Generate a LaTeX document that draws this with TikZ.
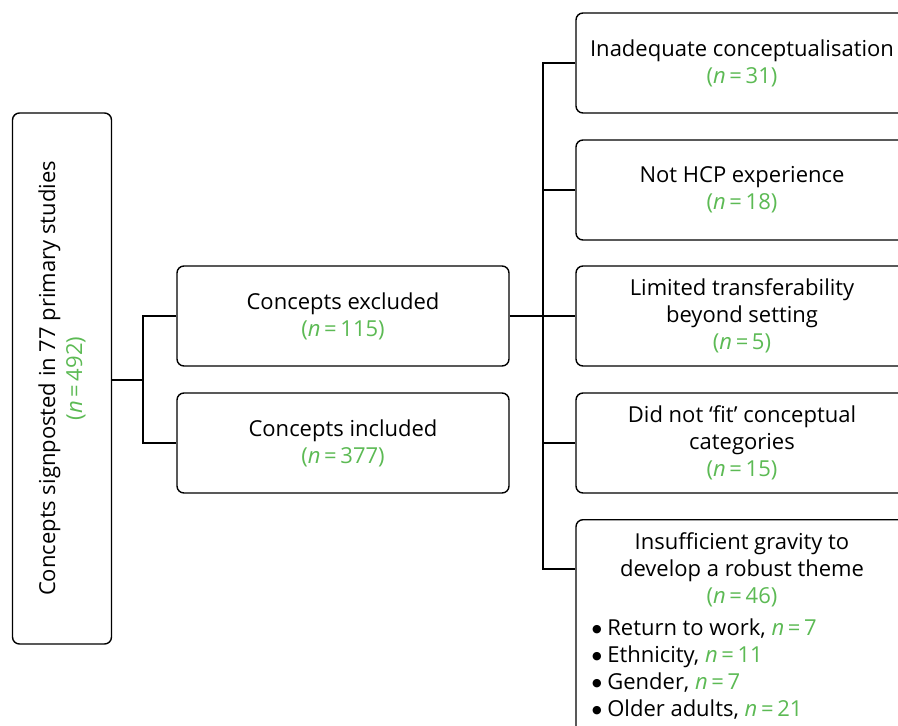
\documentclass[tikz,border=0pt]{standalone}
\usepackage{fontspec}
\setmainfont{Open Sans}
\newfontfamily\symfont{DejaVu Sans}
\definecolor{countgreen}{RGB}{92,186,84}
\newcommand{\cnt}[1]{{\color{countgreen}(\textit{n}\,=\,#1)}}
\newcommand{\ncnt}[1]{{\color{countgreen}\textit{n}\,=\,#1}}
\newcommand{\bigbullet}{{\symfont\fontsize{11}{11}\selectfont\raisebox{2.5pt}{●}}}
\tikzset{
  box/.style={draw=black, line width=1.4pt, rounded corners=7pt, fill=white,
    align=center, inner sep=0pt,
    font=\fontsize{22}{27}\selectfont},
  link/.style={draw=black, line width=1.4pt},
}
\begin{document}
\begin{tikzpicture}[x=1pt,y=-1pt]
\clip (0,0) rectangle (898,726);
\fill[white] (0,0) rectangle (898,726);

% root
\node[box, minimum width=531pt, minimum height=99pt, rotate=90] (root) at (62,378.5)
  {Concepts signposted in 77 primary studies\\\cnt{492}};

% first split
\node[box, minimum width=332pt, minimum height=100pt] (excl) at (343,316)
  {Concepts excluded\\\cnt{115}};
\node[box, minimum width=332pt, minimum height=100pt] (incl) at (343,443)
  {Concepts included\\\cnt{377}};

% reasons for exclusion
\node[box, minimum width=332pt, minimum height=100pt] (r1) at (742,63)
  {Inadequate conceptualisation\\\cnt{31}};
\node[box, minimum width=332pt, minimum height=100pt] (r2) at (742,190)
  {Not HCP experience\\\cnt{18}};
\node[box, minimum width=332pt, minimum height=100pt] (r3) at (742,316)
  {Limited transferability\\beyond setting\\\cnt{5}};
\node[box, minimum width=332pt, minimum height=100pt] (r4) at (742,443)
  {Did not `fit' conceptual\\categories\\\cnt{15}};
\node[box, minimum width=332pt, minimum height=240pt, anchor=north] (r5) at (742,519) {};
\node[anchor=north, inner sep=0pt, font=\fontsize{22}{27}\selectfont] (r5text) at ([yshift=-13pt]r5.north)
  {\begin{minipage}{300pt}
   \centering Insufficient gravity to\\develop a robust theme\\\cnt{46}\par
   \vspace{5pt}\raggedright
   \bigbullet\ Return to work, \ncnt{7}\\
   \bigbullet\ Ethnicity, \ncnt{11}\\
   \bigbullet\ Gender, \ncnt{7}\\
   \bigbullet\ Older adults, \ncnt{21}
   \end{minipage}};

% connectors
\coordinate (j1) at (143,380);
\draw[link] (root.south |- j1) -- (j1);
\draw[link] (excl.west) -| (j1) |- (incl.west);

\coordinate (j2) at (543,316);
\draw[link] (excl.east) -- (r3.west);
\draw[link] (r1.west) -| (j2) |- (r5.west |- 0,569);
\draw[link] (r2.west) -- (j2 |- r2.west);
\draw[link] (r4.west) -- (j2 |- r4.west);
\end{tikzpicture}
\end{document}
